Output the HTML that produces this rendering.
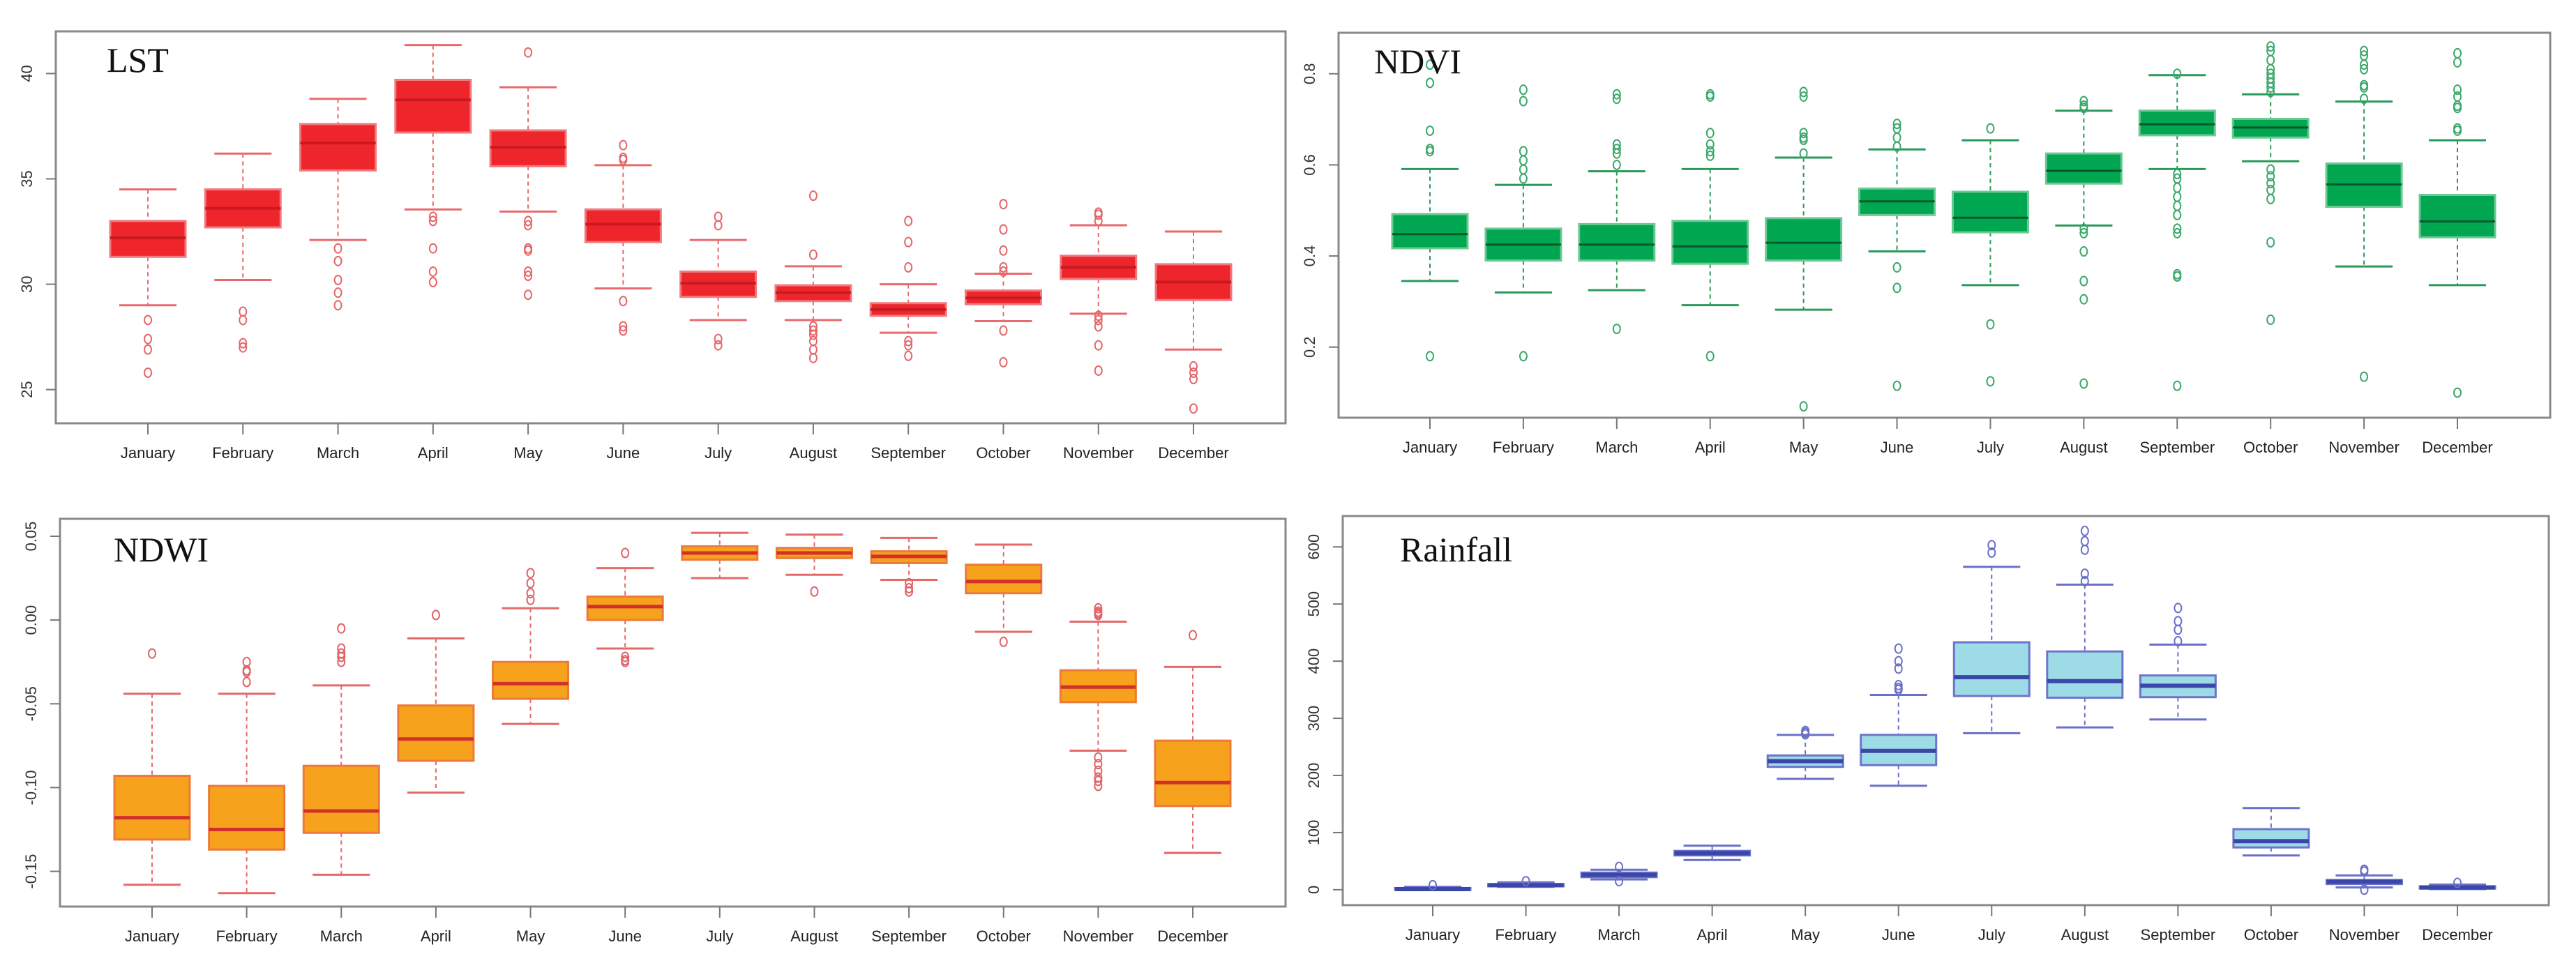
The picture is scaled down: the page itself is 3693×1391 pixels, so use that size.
<!DOCTYPE html>
<html><head><meta charset="utf-8"><style>
html,body{margin:0;padding:0;background:#fff;}
svg{display:block;}
</style></head><body>
<svg id="fig" width="3693" height="1391" xmlns="http://www.w3.org/2000/svg"></svg>
<script>
const months = ["January","February","March","April","May","June","July","August","September","October","November","December"];

// [lowWhisker, q1, median, q3, highWhisker]
const lstStats = [[29.0,31.3,32.2,33.0,34.5],[30.2,32.7,33.6,34.5,36.2],[32.1,35.4,36.7,37.6,38.8],[33.55,37.2,38.75,39.7,41.35],[33.45,35.6,36.5,37.3,39.35],[29.8,32.0,32.85,33.55,35.65],[28.3,29.4,30.05,30.6,32.1],[28.3,29.2,29.6,29.95,30.85],[27.7,28.5,28.8,29.1,30.0],[28.25,29.05,29.35,29.7,30.5],[28.6,30.25,30.8,31.35,32.8],[26.9,29.25,30.1,30.95,32.5]];
const lstOutliers = [[28.3,27.4,26.9,25.8],[28.7,28.3,27.2,27.0],[31.7,31.1,30.2,29.6,29.0],[33.2,33.0,31.7,30.6,30.1],[41.0,33.0,32.8,31.7,31.6,30.6,30.4,29.5],[36.6,36.0,35.9,29.2,28.0,27.8],[33.2,32.8,27.4,27.1],[34.2,31.4,28.0,27.8,27.6,27.3,26.9,26.5],[33.0,32.0,30.8,27.3,27.1,26.6],[33.8,32.6,31.6,30.8,30.6,27.8,26.3],[33.4,33.3,33.0,28.5,28.3,28.0,27.1,25.9],[26.1,25.8,25.5,24.1]];
const lstTicks = [25,30,35,40];

const ndviStats = [[0.345,0.417,0.448,0.492,0.591],[0.32,0.39,0.425,0.46,0.556],[0.325,0.39,0.425,0.47,0.586],[0.292,0.383,0.421,0.477,0.591],[0.282,0.39,0.429,0.483,0.616],[0.41,0.49,0.52,0.548,0.634],[0.336,0.452,0.484,0.541,0.654],[0.467,0.559,0.587,0.625,0.719],[0.591,0.665,0.689,0.719,0.797],[0.608,0.66,0.682,0.701,0.755],[0.377,0.508,0.557,0.603,0.739],[0.336,0.441,0.476,0.534,0.654]];
const ndviOutliers = [[0.82,0.78,0.675,0.635,0.63,0.18],[0.765,0.74,0.63,0.61,0.59,0.57,0.18],[0.755,0.745,0.645,0.635,0.625,0.60,0.24],[0.755,0.75,0.67,0.645,0.63,0.62,0.18],[0.76,0.75,0.67,0.66,0.655,0.625,0.07],[0.69,0.68,0.66,0.64,0.375,0.33,0.115],[0.68,0.25,0.125],[0.74,0.73,0.725,0.46,0.45,0.41,0.345,0.305,0.12],[0.80,0.58,0.57,0.55,0.53,0.51,0.49,0.46,0.45,0.36,0.355,0.115],[0.86,0.85,0.83,0.81,0.80,0.79,0.78,0.77,0.76,0.59,0.575,0.56,0.545,0.525,0.43,0.26],[0.85,0.84,0.82,0.81,0.775,0.77,0.745,0.135],[0.845,0.825,0.765,0.75,0.73,0.725,0.68,0.675,0.10]];
const ndviTicks = [0.2,0.4,0.6,0.8];

const ndwiStats = [[-0.158,-0.131,-0.118,-0.093,-0.044],[-0.163,-0.137,-0.125,-0.099,-0.044],[-0.152,-0.127,-0.114,-0.087,-0.039],[-0.103,-0.084,-0.071,-0.051,-0.011],[-0.062,-0.047,-0.038,-0.025,0.007],[-0.017,0.0,0.008,0.014,0.031],[0.025,0.036,0.040,0.044,0.052],[0.027,0.037,0.040,0.043,0.051],[0.024,0.034,0.038,0.041,0.049],[-0.007,0.016,0.023,0.033,0.045],[-0.078,-0.049,-0.040,-0.030,-0.001],[-0.139,-0.111,-0.097,-0.072,-0.028]];
const ndwiOutliers = [[-0.020],[-0.025,-0.030,-0.031,-0.037],[-0.005,-0.017,-0.020,-0.022,-0.025],[0.003],[0.028,0.022,0.016,0.012],[0.040,-0.022,-0.024,-0.025],[],[0.017],[0.022,0.019,0.017],[-0.013],[0.007,0.005,0.004,0.003,-0.082,-0.086,-0.090,-0.094,-0.096,-0.099],[-0.009]];
const ndwiTicks = [-0.15,-0.10,-0.05,0.00,0.05];
const ndwiTickLabels = ["-0.15","-0.10","-0.05","0.00","0.05"];

const rainStats = [[0,0,1,3,5],[5,6,8,10,13],[18,22,26,30,35],[52,60,64,68,77],[194,215,225,235,271],[182,218,243,271,341],[274,339,372,433,565],[284,336,365,417,534],[298,337,357,375,429],[60,74,85,106,143],[4,10,14,17,25],[1,2,4,6,9]];
const rainOutliers = [[8],[15],[40,15],[],[275,278,272],[422,400,387,358,353,350],[603,590],[628,610,595,553,540],[493,470,455,435],[],[35,32,0],[12]];
const rainTicks = [0,100,200,300,400,500,600];

const NS = "http://www.w3.org/2000/svg";
const svg = document.getElementById("fig");
function mk(tag, attrs, parent){
  const e = document.createElementNS(NS, tag);
  for (const k in attrs) e.setAttribute(k, attrs[k]);
  (parent||svg).appendChild(e);
  return e;
}

const panels = [
  {key:"lst", title:"LST", stats:lstStats, out:lstOutliers, ticks:lstTicks, labels:lstTicks.map(String),
   box:[80,45,1843,607], ymin:23.4, ymax:42.0, x0:212, x1:1711, bw:108,
   fill:"#ee262c", border:"#f07a7e", med:"#c81a20", whisk:"#e86a6e", medW:4, outC:"#e4666a", titleX:153, titleY:103},
  {key:"ndvi", title:"NDVI", stats:ndviStats, out:ndviOutliers, ticks:ndviTicks, labels:["0.2","0.4","0.6","0.8"],
   box:[1919,47,3656,599], ymin:0.045, ymax:0.89, x0:2050, x1:3523, bw:108,
   fill:"#00a650", border:"#6cc894", med:"#05582c", whisk:"#2a9a5a", medW:3, outC:"#3aa86a", titleX:1970, titleY:105},
  {key:"ndwi", title:"NDWI", stats:ndwiStats, out:ndwiOutliers, ticks:ndwiTicks, labels:ndwiTickLabels,
   box:[86,744,1843,1300], ymin:-0.171, ymax:0.0604, x0:218, x1:1710, bw:108,
   fill:"#f6a21c", border:"#ec7a3c", med:"#d2302a", whisk:"#e46a6a", medW:5, outC:"#e06468", titleX:163, titleY:805},
  {key:"rainfall", title:"Rainfall", stats:rainStats, out:rainOutliers, ticks:rainTicks, labels:rainTicks.map(String),
   box:[1925,740,3654,1298], ymin:-27, ymax:654, x0:2054, x1:3523, bw:108,
   fill:"#9ddbe6", border:"#6d74cc", med:"#3a46a8", whisk:"#6a70c8", medW:6, outC:"#6a70c8", titleX:2007, titleY:805}
];

panels.forEach(p => {
  const g = mk("g", {});
  
  
  const [L,T,R,B] = p.box;
  const yS = v => B - (v - p.ymin) / (p.ymax - p.ymin) * (B - T);
  const xS = i => p.x0 + i * (p.x1 - p.x0) / (months.length - 1);

  // frame
  const fr = mk("rect", {x:L, y:T, width:R-L, height:B-T, fill:"none", stroke:"#8a8a8a", "stroke-width":3}, g);
  
  

  // y ticks
  p.ticks.forEach((t, i) => {
    const y = yS(t);
    mk("line", {x1:L-14, x2:L, y1:y, y2:y, stroke:"#777", "stroke-width":2}, g);
    const tx = mk("text", {x:L-40, y:y, transform:`rotate(-90 ${L-40} ${y})`, "text-anchor":"middle", "dominant-baseline":"middle",
      "font-family":"Liberation Sans, sans-serif", "font-size":22, fill:"#333"}, g);
    tx.textContent = p.labels[i];
    
    
  });

  // x ticks & labels
  months.forEach((m, i) => {
    const x = xS(i);
    mk("line", {x1:x, x2:x, y1:B, y2:B+16, stroke:"#777", "stroke-width":2}, g);
    const tx = mk("text", {x:x, y:B+50, "text-anchor":"middle", "font-family":"Liberation Sans Narrow, Liberation Sans, sans-serif",
      "font-size":22, fill:"#222", textLength:"", }, g);
    tx.removeAttribute("textLength");
    tx.textContent = m;
    
    
  });

  // boxes
  p.stats.forEach((s, i) => {
    const x = xS(i), hw = p.bw/2, cap = p.bw*0.38;
    const [lo,q1,md,q3,hi] = s;
    const bg = mk("g", {}, g);
    
    
    mk("line", {x1:x, x2:x, y1:yS(hi), y2:yS(q3), stroke:p.whisk, "stroke-width":2, "stroke-dasharray":"6,5"}, bg);
    mk("line", {x1:x, x2:x, y1:yS(q1), y2:yS(lo), stroke:p.whisk, "stroke-width":2, "stroke-dasharray":"6,5"}, bg);
    mk("line", {x1:x-cap, x2:x+cap, y1:yS(hi), y2:yS(hi), stroke:p.whisk, "stroke-width":3}, bg);
    mk("line", {x1:x-cap, x2:x+cap, y1:yS(lo), y2:yS(lo), stroke:p.whisk, "stroke-width":3}, bg);
    mk("rect", {x:x-hw, y:yS(q3), width:p.bw, height:Math.max(2, yS(q1)-yS(q3)), fill:p.fill, stroke:p.border, "stroke-width":3}, bg);
    mk("line", {x1:x-hw, x2:x+hw, y1:yS(md), y2:yS(md), stroke:p.med, "stroke-width":p.medW}, bg);
    p.out[i].forEach(o => {
      const c = mk("ellipse", {cx:x, cy:yS(o), rx:5, ry:6.5, fill:"none", stroke:p.outC, "stroke-width":2}, bg);
      
      
    });
  });

  const tt = mk("text", {x:p.titleX, y:p.titleY, "font-family":"Liberation Serif, serif", "font-size":50, fill:"#111"}, g);
  tt.textContent = p.title;
  
  
});
</script>
</body></html>
